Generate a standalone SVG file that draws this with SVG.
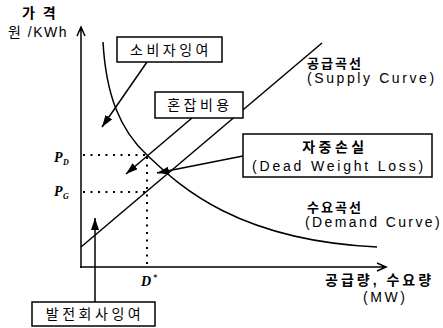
<svg xmlns="http://www.w3.org/2000/svg" width="443" height="328" viewBox="0 0 443 328">
<defs>
<style>
.ln{fill:none;stroke:#000;stroke-width:1.5}
.dot{fill:none;stroke:#000;stroke-width:2;stroke-dasharray:2 5.5}
.box{fill:#fff;stroke:#000;stroke-width:1.5}
.kb{font-family:"Liberation Sans","Noto Sans CJK KR",sans-serif;font-size:14px;letter-spacing:3.5px;fill:#000}
.kl{font-family:"Liberation Sans","Noto Sans CJK KR",sans-serif;font-size:13px;font-weight:bold;letter-spacing:2px;fill:#000}
.en{font-family:"Liberation Sans","Noto Sans CJK KR",sans-serif;font-size:14px;letter-spacing:2.6px;fill:#000}
.sym{font-family:"Liberation Serif",serif;font-style:italic;font-weight:bold;fill:#000}
</style>
<marker id="ah" viewBox="0 0 12 8" refX="12" refY="4" markerWidth="12" markerHeight="8" markerUnits="userSpaceOnUse" orient="auto">
<path d="M0,0 L12,4 L0,8 Z" fill="#000"/>
</marker>
</defs>

<g id="axes">
<path class="ln" d="M81,268 V28 M77,36 L81,27 L85,36"/>
<path class="ln" d="M80,267 H385 M377,263 L386,267 L377,271"/>
<text class="kl" x="22" y="18" style="font-size:14px">가 격</text>
<text class="en" x="8" y="37" style="letter-spacing:1.5px">원 /KWh</text>
<text class="kl" x="325" y="285" style="font-size:14px;letter-spacing:3px">공급량, 수요량</text>
<text class="en" x="363" y="302">(MW)</text>
</g>

<g id="guides">
<path class="dot" d="M83,155 H147 M83,192 H147 M147,157 V266"/>
<text class="sym" x="54" y="162" font-size="14">P</text>
<text class="sym" x="63" y="165" font-size="8">D</text>
<text class="sym" x="54" y="196" font-size="14">P</text>
<text class="sym" x="63" y="199" font-size="8">G</text>
<text class="sym" x="141" y="286" font-size="14">D</text>
<text class="sym" x="153" y="280" font-size="8">*</text>
</g>

<g id="supply">
<path class="ln" d="M81,247 L322,43"/>
<text class="kl" x="307" y="68">공급곡선</text>
<text class="en" x="307" y="83">(Supply Curve)</text>
</g>

<g id="demand">
<path class="ln" d="M103,42 C106,95 120,130 147,155 C174,180 230,240 377,247"/>
<text class="kl" x="307" y="212">수요곡선</text>
<text class="en" x="305" y="227" style="letter-spacing:2.4px">(Demand Curve)</text>
</g>

<g id="connectors">
<path class="ln" d="M147,62 L102,127" marker-end="url(#ah)"/>
<path class="ln" d="M192,118 L126,174" marker-end="url(#ah)"/>
<path class="ln" d="M243,156 L157,173" marker-end="url(#ah)"/>
<path class="ln" d="M95,302 L95,218" marker-end="url(#ah)"/>
</g>

<g id="consumer-surplus">
<rect class="box" x="117" y="37" width="105" height="25"/>
<text class="kb" x="171" y="55" text-anchor="middle">소비자잉여</text>
</g>

<g id="congestion-cost">
<rect class="box" x="155" y="92" width="88" height="26"/>
<text class="kb" x="200" y="110" text-anchor="middle">혼잡비용</text>
</g>

<g id="deadweight-loss">
<rect class="box" x="243" y="134" width="189" height="43"/>
<text class="kl" x="335" y="152" text-anchor="middle" style="font-size:14px;letter-spacing:3.5px">자중손실</text>
<text class="en" x="339" y="171" text-anchor="middle" style="letter-spacing:2.8px">(Dead Weight Loss)</text>
</g>

<g id="producer-surplus">
<rect class="box" x="32" y="302" width="123" height="24"/>
<text class="kb" x="95" y="319" text-anchor="middle">발전회사잉여</text>
</g>
</svg>
